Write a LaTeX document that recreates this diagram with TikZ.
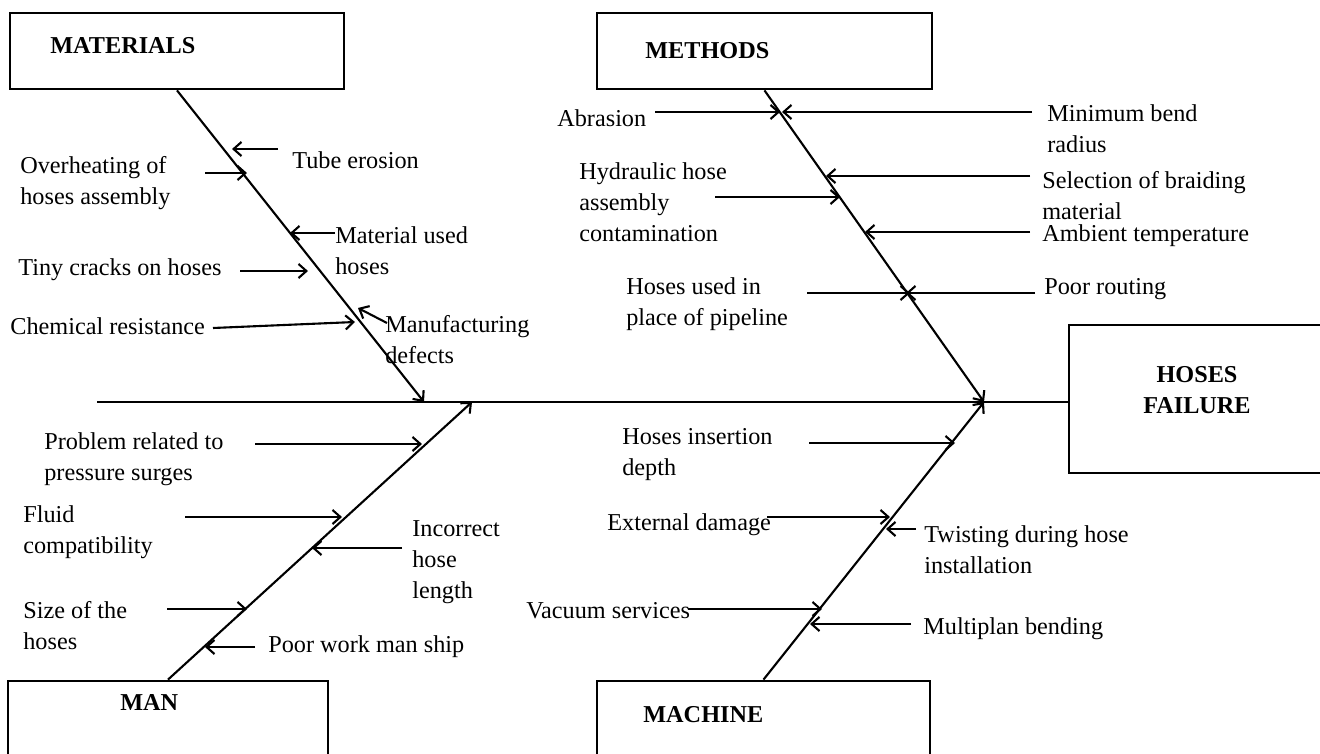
\documentclass[tikz,border=0pt]{standalone}
\usepackage{fontspec}
\setmainfont{Liberation Serif}
\usetikzlibrary{arrows.meta}

\begin{document}
\begin{tikzpicture}[x=0.02cm, y=-0.02cm, >={Straight Barb[length=4.5pt,width=8pt]},
    every node/.style={font=\fontsize{13.8}{17.6}\selectfont, inner sep=0pt},
    catbox/.style={draw, line width=1.6pt, minimum height=1.52cm},
    cat/.style={anchor=west, font=\fontsize{13.8}{17.6}\selectfont\bfseries},
    cause/.style={anchor=west, align=left},
    bone/.style={line width=1.2pt},
    twig/.style={line width=1.2pt, ->}]
    \clip (0,0) rectangle (1320,754);

    % boxes
    \node[catbox, minimum width=6.68cm] (materials) at (177,51) {};
    \node[catbox, minimum width=6.7cm] (methods) at (764.5,51) {};
    \node[catbox, minimum width=6.4cm, minimum height=2cm] (man) at (168,731) {};
    \node[catbox, minimum width=6.66cm, minimum height=2cm] (machine) at (763.5,731) {};
    \node[catbox, minimum width=5.12cm, minimum height=2.96cm] (failure) at (1197,399) {};

    \node[cat] (materials_t) at (50,46) {MATERIALS};
    \node[cat] (methods_t) at (645,51) {METHODS};
    \node[cat] (man_t) at (120,702) {MAN};
    \node[cat] (machine_t) at (643,715) {MACHINE};
    \node[font=\fontsize{13.8}{17.6}\selectfont\bfseries, align=center] (failure_t) at (1197,390) {HOSES\\FAILURE};

    % spine and bones
    \coordinate (tail) at (97,402);
    \coordinate (head) at (984,402);
    \coordinate (mat_head) at (424,402);
    \coordinate (man_head) at (472,402);

    \draw[bone] (tail) -- (tail -| failure.west);
    \draw[bone, ->] (materials.south) -- (mat_head);
    \draw[bone, ->] (methods.south) -- (head);
    \draw[bone, ->] (man.north) -- (man_head);
    \draw[bone, ->] (machine.north) -- (head);

    % materials
    \node[cause] (tube) at (292,160) {Tube erosion};
    \node[cause] (overheat) at (20,183) {Overheating of\\hoses assembly};
    \node[cause] (matused) at (335,251) {Material used\\hoses};
    \node[cause] (tiny) at (18,270) {Tiny cracks on hoses};
    \node[cause] (chem) at (10,326) {Chemical resistance};
    \node[cause] (manuf) at (385,340) {Manufacturing\\defects};

    \coordinate (tube_a) at (278,149);   \coordinate (tube_b) at (232,149);
    \coordinate (over_a) at (205,173);   \coordinate (over_b) at (247,173);
    \coordinate (mat_a) at (335,233);    \coordinate (mat_b) at (290,233);
    \coordinate (tiny_a) at (240,271);   \coordinate (tiny_b) at (308,271);
    \coordinate (chem_a) at (213,328);   \coordinate (chem_b) at (355,322);
    \coordinate (manuf_a) at (387,323);  \coordinate (manuf_b) at (358,308);

    \draw[twig] (tube_a) -- (tube_b);
    \draw[twig] (over_a) -- (over_b);
    \draw[twig] (mat_a) -- (mat_b);
    \draw[twig] (tiny_a) -- (tiny_b);
    \draw[twig] (chem_a) -- (chem_b);
    \draw[twig] (manuf_a) -- (manuf_b);

    % methods
    \node[cause] (abrasion) at (557,118) {Abrasion};
    \node[cause] (minbend) at (1047,129) {Minimum bend\\radius};
    \node[cause] (hydraulic) at (579,202) {Hydraulic hose\\assembly\\contamination};
    \node[cause] (braid) at (1042,196) {Selection of braiding\\material};
    \node[cause] (ambient) at (1042,236) {Ambient temperature};
    \node[cause] (pipeline) at (626,304) {Hoses used in\\place of pipeline};
    \node[cause] (routing) at (1044,289) {Poor routing};

    \coordinate (abr_a) at (655,112);    \coordinate (abr_b) at (780,112);
    \coordinate (bend_a) at (1032,112);  \coordinate (bend_b) at (782,112);
    \coordinate (hyd_a) at (715,197);    \coordinate (hyd_b) at (840,197);
    \coordinate (braid_a) at (1030,176); \coordinate (braid_b) at (826,176);
    \coordinate (amb_a) at (1030,232);   \coordinate (amb_b) at (865,232);
    \coordinate (pipe_a) at (807,293);   \coordinate (pipe_b) at (910,293);
    \coordinate (rout_a) at (1035,293);  \coordinate (rout_b) at (906,293);

    \draw[twig] (abr_a) -- (abr_b);
    \draw[twig] (bend_a) -- (bend_b);
    \draw[twig] (hyd_a) -- (hyd_b);
    \draw[twig] (braid_a) -- (braid_b);
    \draw[twig] (amb_a) -- (amb_b);
    \draw[twig] (pipe_a) -- (pipe_b);
    \draw[twig] (rout_a) -- (rout_b);

    % man
    \node[cause] (problem) at (44,459) {Problem related to\\pressure surges};
    \node[cause] (fluid) at (23,532) {Fluid\\compatibility};
    \node[cause] (incorrect) at (412,562) {Incorrect\\hose\\length};
    \node[cause] (size) at (23,626) {Size of the\\hoses};
    \node[cause] (poorwork) at (268,647) {Poor work man ship};

    \coordinate (prob_a) at (255,444);   \coordinate (prob_b) at (422,444);
    \coordinate (fluid_a) at (185,517);  \coordinate (fluid_b) at (342,517);
    \coordinate (inc_a) at (402,548);    \coordinate (inc_b) at (312,548);
    \coordinate (size_a) at (167,609);   \coordinate (size_b) at (247,609);
    \coordinate (work_a) at (255,647);   \coordinate (work_b) at (205,647);

    \draw[twig] (prob_a) -- (prob_b);
    \draw[twig] (fluid_a) -- (fluid_b);
    \draw[twig] (inc_a) -- (inc_b);
    \draw[twig] (size_a) -- (size_b);
    \draw[twig] (work_a) -- (work_b);

    % machine
    \node[cause] (insertion) at (622,455) {Hoses insertion\\depth};
    \node[cause] (external) at (607,525) {External damage};
    \node[cause] (twisting) at (924,550) {Twisting during hose\\installation};
    \node[cause] (vacuum) at (526,611) {Vacuum services};
    \node[cause] (multiplan) at (923,629) {Multiplan bending};

    \coordinate (ins_a) at (809,443);    \coordinate (ins_b) at (955,443);
    \coordinate (ext_a) at (767,517);    \coordinate (ext_b) at (890,517);
    \coordinate (twist_a) at (916,529);  \coordinate (twist_b) at (886,529);
    \coordinate (vac_a) at (688,609);    \coordinate (vac_b) at (822,609);
    \coordinate (multi_a) at (911,624);  \coordinate (multi_b) at (810,624);

    \draw[twig] (ins_a) -- (ins_b);
    \draw[twig] (ext_a) -- (ext_b);
    \draw[twig] (twist_a) -- (twist_b);
    \draw[twig] (vac_a) -- (vac_b);
    \draw[twig] (multi_a) -- (multi_b);
\end{tikzpicture}
\end{document}
